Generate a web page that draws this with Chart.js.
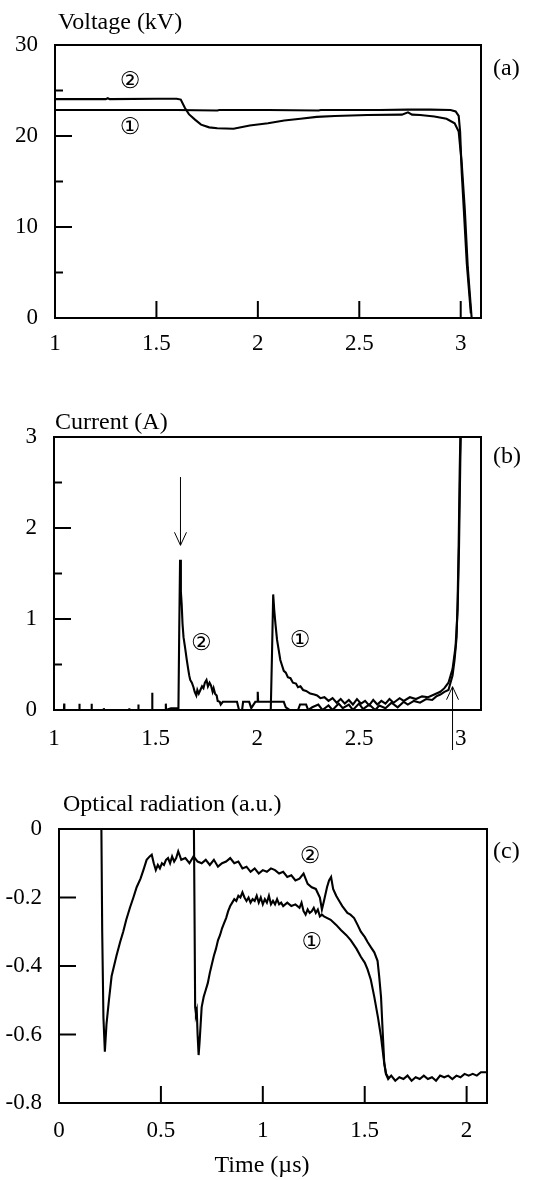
<!DOCTYPE html>
<html>
<head>
<meta charset="utf-8">
<title>Voltage, current and optical radiation</title>
<script src="https://cdn.jsdelivr.net/npm/chart.js@4.4.0/dist/chart.umd.min.js"></script>
<style>
  body { margin: 0; background: #fff; }
  #wrap { position: relative; width: 559px; height: 1180px; }
  canvas { position: absolute; left: 0; }
</style>
</head>
<body>
<div id="wrap">
  <canvas id="cv_a" width="559" height="370" style="top:0px"></canvas>
  <canvas id="cv_b" width="559" height="400" style="top:370px"></canvas>
  <canvas id="cv_c" width="559" height="410" style="top:770px"></canvas>
</div>
<script>
// ---- data ([time, value]) ----

// (a) voltage, kV vs time, us
var voltage1 = [[1,22.85],[1.3,22.85],[1.6,22.85],[1.8,22.8],[1.81,22.85],[2.05,22.85],[2.3,22.8],[2.31,22.85],
  [2.6,22.85],[2.74,22.9],[2.85,22.9],[2.95,22.85],[2.975,22.7],[2.99,22.2],[2.997,20.5],[3.005,16],
  [3.015,12],[3.03,6],[3.05,0.5]];
var voltage2 = [[1,24.05],[1.25,24.05],[1.26,24.15],[1.27,24.05],[1.5,24.1],[1.6,24.1],[1.62,24.0],[1.64,23.1],
  [1.66,22.4],[1.69,21.8],[1.72,21.25],[1.76,20.95],[1.8,20.85],[1.88,20.8],[1.96,21.15],[2.05,21.4],
  [2.13,21.7],[2.21,21.9],[2.29,22.1],[2.38,22.2],[2.54,22.3],[2.71,22.35],[2.74,22.6],[2.76,22.35],
  [2.8,22.3],[2.87,22.15],[2.93,21.9],[2.97,21.4],[2.99,20.5],[3.005,17],[3.02,12],[3.035,5.5],[3.054,0]];

// (b) current, A vs time, us
var current1 = [[1,0],[1.5,0],[1.8,0],[2.0,0],[2.066,0],[2.072,0.6],[2.078,1.27],[2.083,1.1],[2.089,0.95],
  [2.097,0.77],[2.105,0.66],[2.113,0.55],[2.12,0.5],[2.13,0.43],[2.14,0.41],[2.15,0.36],[2.163,0.35],
  [2.175,0.3],[2.19,0.29],[2.2,0.25],[2.212,0.26],[2.225,0.22],[2.24,0.21],[2.26,0.18],[2.28,0.17],
  [2.294,0.16],[2.31,0.13],[2.33,0.14],[2.35,0.1],[2.37,0.13],[2.39,0.08],[2.41,0.12],[2.43,0.07],
  [2.45,0.11],[2.47,0.06],[2.49,0.12],[2.51,0.07],[2.53,0.1],[2.55,0.05],[2.57,0.11],[2.59,0.06],
  [2.61,0.1],[2.63,0.07],[2.65,0.12],[2.67,0.08],[2.7,0.13],[2.72,0.1],[2.75,0.14],[2.78,0.12],
  [2.81,0.15],[2.84,0.14],[2.87,0.17],[2.9,0.2],[2.92,0.24],[2.94,0.3],[2.96,0.45],[2.975,0.7],
  [2.985,1.1],[2.992,1.8],[2.998,2.7],[3.002,3.2]];
var current2 = [[1,0],[1.049,0],[1.05,0.07],[1.051,0],[1.124,0],[1.125,0.07],[1.126,0],[1.184,0],[1.185,0.07],
  [1.186,0],[1.244,0],[1.245,0.02],[1.246,0],[1.369,0],[1.37,0.02],[1.371,0],[1.414,0],[1.415,0.06],
  [1.416,0],[1.482,0],[1.483,0.19],[1.484,0],[1.549,0],[1.55,0.07],[1.551,0],[1.575,0.02],[1.612,0.02],
  [1.616,0.9],[1.62,1.65],[1.624,1.3],[1.628,1.16],[1.632,0.95],[1.637,0.8],[1.645,0.68],[1.653,0.55],
  [1.66,0.45],[1.665,0.38],[1.67,0.33],[1.678,0.3],[1.686,0.25],[1.692,0.2],[1.7,0.16],[1.705,0.22],
  [1.712,0.18],[1.72,0.22],[1.728,0.26],[1.735,0.24],[1.742,0.3],[1.75,0.33],[1.757,0.26],[1.765,0.3],
  [1.772,0.27],[1.78,0.2],[1.785,0.24],[1.792,0.18],[1.8,0.16],[1.805,0.1],[1.815,0.09],[1.82,0.06],
  [1.83,0.09],[1.9,0.09],[1.91,0],[1.925,0],[1.93,0.09],[1.96,0.09],[1.97,0.02],[1.99,0.09],[2.0,0.09],
  [2.002,0.2],[2.004,0.09],[2.13,0.09],[2.14,0.03],[2.16,0],[2.2,0],[2.21,0.06],[2.24,0.06],[2.25,0],
  [2.27,0.03],[2.3,0.06],[2.32,0],[2.35,0.05],[2.37,0],[2.4,0.07],[2.42,0.02],[2.45,0.06],[2.47,0],
  [2.5,0.07],[2.52,0.01],[2.55,0.06],[2.58,0],[2.6,0.05],[2.63,0.02],[2.66,0.08],[2.69,0.03],[2.72,0.09],
  [2.74,0.06],[2.77,0.1],[2.8,0.08],[2.83,0.12],[2.86,0.11],[2.88,0.15],[2.9,0.17],[2.92,0.2],
  [2.94,0.22],[2.95,0.3],[2.96,0.38],[2.97,0.55],[2.98,0.8],[2.985,1.2],[2.99,1.8],[2.995,2.6],[3.0,3.2]];

// (c) optical radiation, a.u. vs time, us
var optical1 = [[0,0],[0.3,0],[0.6,0],[0.662,0],[0.665,-0.25],[0.668,-0.52],[0.672,-0.54],[0.676,-0.53],
  [0.68,-0.6],[0.685,-0.66],[0.69,-0.62],[0.695,-0.57],[0.7,-0.52],[0.71,-0.49],[0.72,-0.47],[0.73,-0.45],
  [0.74,-0.42],[0.75,-0.395],[0.76,-0.37],[0.77,-0.35],[0.78,-0.325],[0.79,-0.31],[0.8,-0.29],
  [0.81,-0.275],[0.82,-0.26],[0.83,-0.24],[0.84,-0.225],[0.85,-0.215],[0.86,-0.205],[0.87,-0.21],
  [0.88,-0.195],[0.89,-0.2],[0.9,-0.185],[0.91,-0.2],[0.92,-0.21],[0.93,-0.2],[0.94,-0.215],[0.95,-0.205],
  [0.96,-0.21],[0.97,-0.195],[0.98,-0.215],[0.99,-0.2],[1.0,-0.22],[1.01,-0.205],[1.02,-0.215],
  [1.03,-0.195],[1.04,-0.22],[1.05,-0.21],[1.06,-0.22],[1.07,-0.205],[1.08,-0.22],[1.09,-0.215],
  [1.1,-0.225],[1.12,-0.215],[1.14,-0.225],[1.16,-0.22],[1.18,-0.23],[1.19,-0.215],[1.2,-0.24],
  [1.21,-0.25],[1.22,-0.235],[1.23,-0.245],[1.24,-0.24],[1.25,-0.23],[1.26,-0.245],[1.27,-0.235],
  [1.28,-0.255],[1.29,-0.25],[1.3,-0.255],[1.333,-0.265],[1.36,-0.28],[1.383,-0.295],[1.41,-0.31],
  [1.432,-0.325],[1.46,-0.35],[1.481,-0.373],[1.5,-0.39],[1.514,-0.41],[1.53,-0.44],[1.547,-0.49],
  [1.565,-0.55],[1.58,-0.607],[1.595,-0.68],[1.605,-0.715],[1.615,-0.725]];
var optical2 = [[0,0],[0.1,0],[0.208,0],[0.212,-0.3],[0.218,-0.55],[0.225,-0.65],[0.233,-0.57],[0.245,-0.5],
  [0.258,-0.43],[0.27,-0.4],[0.282,-0.37],[0.3,-0.33],[0.315,-0.3],[0.33,-0.265],[0.348,-0.23],
  [0.365,-0.2],[0.381,-0.17],[0.4,-0.145],[0.414,-0.12],[0.43,-0.09],[0.445,-0.08],[0.455,-0.075],
  [0.465,-0.1],[0.475,-0.12],[0.485,-0.105],[0.495,-0.115],[0.505,-0.1],[0.515,-0.105],[0.525,-0.09],
  [0.535,-0.085],[0.545,-0.1],[0.555,-0.08],[0.565,-0.095],[0.575,-0.085],[0.585,-0.065],[0.6,-0.09],
  [0.62,-0.085],[0.64,-0.1],[0.66,-0.08],[0.68,-0.095],[0.7,-0.1],[0.72,-0.09],[0.74,-0.105],
  [0.76,-0.09],[0.78,-0.11],[0.8,-0.1],[0.82,-0.095],[0.84,-0.085],[0.86,-0.1],[0.88,-0.095],
  [0.9,-0.115],[0.92,-0.11],[0.94,-0.125],[0.96,-0.115],[0.98,-0.13],[1.0,-0.12],[1.02,-0.125],
  [1.04,-0.115],[1.06,-0.12],[1.08,-0.13],[1.1,-0.125],[1.12,-0.14],[1.14,-0.135],[1.16,-0.15],
  [1.18,-0.145],[1.2,-0.13],[1.22,-0.16],[1.24,-0.17],[1.26,-0.175],[1.28,-0.2],[1.29,-0.235],
  [1.3,-0.21],[1.315,-0.17],[1.325,-0.15],[1.335,-0.14],[1.345,-0.175],[1.36,-0.195],[1.375,-0.21],
  [1.39,-0.225],[1.415,-0.245],[1.43,-0.25],[1.448,-0.26],[1.465,-0.28],[1.481,-0.3],[1.5,-0.315],
  [1.514,-0.33],[1.53,-0.345],[1.547,-0.36],[1.563,-0.385],[1.571,-0.43],[1.58,-0.49],[1.588,-0.59],
  [1.596,-0.685],[1.604,-0.715],[1.615,-0.73],[1.63,-0.72],[1.65,-0.735],[1.67,-0.725],[1.69,-0.73],
  [1.71,-0.72],[1.73,-0.735],[1.75,-0.725],[1.77,-0.73],[1.79,-0.72],[1.81,-0.73],[1.83,-0.725],
  [1.85,-0.735],[1.87,-0.72],[1.89,-0.725],[1.91,-0.72],[1.93,-0.73],[1.95,-0.72],[1.97,-0.725],
  [1.99,-0.715],[2.01,-0.72],[2.03,-0.715],[2.05,-0.72],[2.07,-0.71],[2.1,-0.71]];

// axis ranges / ticks
var xRangeAB = [1, 3.1];
var xRangeC = [0, 2.1];
var yRangeA = [0, 30];
var yRangeB = [0, 3];
var yRangeC = [-0.8, 0];

Chart.defaults.font.family = "'Liberation Serif', 'Times New Roman', serif";
Chart.defaults.font.size = 23;
Chart.defaults.color = '#000';

function toXY(arr) {
  return arr.map(function (p) { return {x: p[0], y: p[1]}; });
}

function fmt(v) {
  return String(Math.round(v * 100) / 100);
}

function line(ctx, x1, y1, x2, y2) {
  ctx.beginPath(); ctx.moveTo(x1, y1); ctx.lineTo(x2, y2); ctx.stroke();
}

// frame, inward ticks, texts and arrows
var deco = {
  id: 'deco',
  afterDraw: function (chart, args, o) {
    var ctx = chart.ctx, a = chart.chartArea;
    var xs = chart.scales.x, ys = chart.scales.y;
    ctx.save();
    ctx.strokeStyle = '#000';
    ctx.lineWidth = 2;
    ctx.strokeRect(a.left, a.top, a.right - a.left, a.bottom - a.top);

    var yt = ys.ticks;
    for (var i = 0; i < yt.length; i++) {
      var p = ys.getPixelForValue(yt[i].value);
      line(ctx, a.left, p, a.left + 17, p);
      if (o.yMinor && i < yt.length - 1) {
        var m = ys.getPixelForValue((yt[i].value + yt[i + 1].value) / 2);
        line(ctx, a.left, m, a.left + 8, m);
      }
    }
    if (o.xTicks) {
      xs.ticks.forEach(function (t) {
        var p = xs.getPixelForValue(t.value);
        line(ctx, p, a.bottom, p, a.bottom - 17);
      });
    }

    // arrows given in data units
    ctx.lineWidth = 1;
    (o.arrows || []).forEach(function (ar) {
      var px = xs.getPixelForValue(ar.x);
      var y1 = ys.getPixelForValue(ar.from), y2 = ys.getPixelForValue(ar.to);
      var d = y2 > y1 ? -1 : 1;
      line(ctx, px, y1, px, y2);
      line(ctx, px, y2, px - 6, y2 + d * 13);
      line(ctx, px, y2, px + 6, y2 + d * 13);
    });

    ctx.fillStyle = '#000';
    ctx.textBaseline = 'alphabetic';
    ctx.font = "24px 'Liberation Serif', serif";
    ctx.textAlign = 'left';
    ctx.fillText(o.title, o.titleAt[0], o.titleAt[1]);
    ctx.fillText(o.tag, o.tagAt[0], o.tagAt[1]);
    if (o.xTitle) {
      ctx.textAlign = 'center';
      ctx.fillText(o.xTitle, o.xTitleAt[0], o.xTitleAt[1]);
    }

    ctx.font = "23px 'DejaVu Sans', sans-serif";
    ctx.textAlign = 'center';
    ctx.textBaseline = 'middle';
    (o.marks || []).forEach(function (mk) {
      ctx.fillText(mk.text, xs.getPixelForValue(mk.x), ys.getPixelForValue(mk.y));
    });
    ctx.restore();
  }
};

function makePanel(id, box, xr, yr, ystep, xpad, series, deco_opts) {
  var cv = document.getElementById(id);
  var W = cv.width, H = cv.height;
  var sets = series.map(function (s) {
    return {
      data: toXY(s),
      borderColor: '#000',
      borderWidth: 2.1,
      pointRadius: 0,
      fill: false,
      tension: 0
    };
  });
  return new Chart(cv, {
    type: 'line',
    data: { datasets: sets },
    plugins: [deco],
    options: {
      responsive: false,
      animation: false,
      events: [],
      layout: { padding: { left: 0, top: box.top, right: W - box.right, bottom: 0 } },
      plugins: { legend: { display: false }, tooltip: { enabled: false }, deco: deco_opts },
      scales: {
        x: {
          type: 'linear', min: xr[0], max: xr[1],
          grid: { display: false, drawTicks: false }, border: { display: false },
          ticks: { stepSize: 0.5, includeBounds: false, padding: xpad, maxRotation: 0, autoSkip: false, callback: fmt },
          afterFit: function (s) { s.height = H - box.bottom; }
        },
        y: {
          type: 'linear', min: yr[0], max: yr[1],
          grid: { display: false, drawTicks: false }, border: { display: false },
          ticks: { stepSize: ystep, padding: 17, callback: fmt },
          afterFit: function (s) { s.width = box.left; }
        }
      }
    }
  });
}

makePanel('cv_a', {left: 55, top: 45, right: 481, bottom: 318}, xRangeAB, yRangeA, 10, 12,
  [voltage1, voltage2], {
    yMinor: true, xTicks: true,
    title: 'Voltage (kV)', titleAt: [58, 29],
    tag: '(a)', tagAt: [493, 75],
    marks: [{x: 1.37, y: 25.97, text: '②'}, {x: 1.37, y: 20.85, text: '①'}]
  });

makePanel('cv_b', {left: 54, top: 67, right: 481, bottom: 340}, xRangeAB, yRangeB, 1, 15,
  [current1, current2], {
    yMinor: true, xTicks: false,
    title: 'Current (A)', titleAt: [55, 59],
    tag: '(b)', tagAt: [493, 93],
    marks: [{x: 1.725, y: 0.73, text: '②'}, {x: 2.21, y: 0.76, text: '①'}],
    arrows: [{x: 1.622, from: 2.56, to: 1.81}, {x: 2.96, from: -0.44, to: 0.256}]
  });

makePanel('cv_c', {left: 59, top: 59, right: 487, bottom: 333}, xRangeC, yRangeC, 0.2, 14,
  [optical1, optical2], {
    yMinor: false, xTicks: true,
    title: 'Optical radiation (a.u.)', titleAt: [63, 41],
    tag: '(c)', tagAt: [493, 88],
    xTitle: 'Time (µs)', xTitleAt: [262, 402],
    marks: [{x: 1.232, y: -0.082, text: '②'}, {x: 1.24, y: -0.334, text: '①'}]
  });
</script>
</body>
</html>
